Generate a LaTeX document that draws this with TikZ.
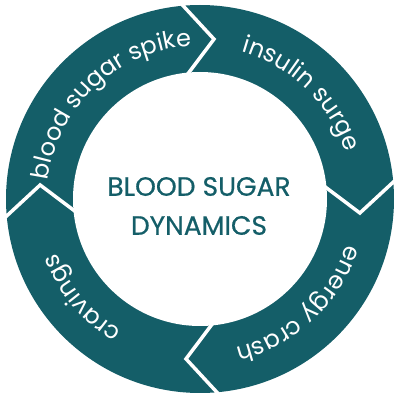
\documentclass[tikz,border=0pt]{standalone}
\usepackage{fontspec}
\newfontfamily\popp{Poppins}
\newfontfamily\poppmed{Poppins}[FakeBold=0.5]
\usetikzlibrary{decorations.text,calc}
\definecolor{ringteal}{RGB}{20,94,104}
\newcommand\lbl{\popp\fontsize{24}{24}\selectfont}
\tikzset{
  ringlabel/.style={decorate, decoration={text along path, text align=center, text color=white, text={|\lbl|#1}}},
  gapline/.style={white, line width=3.5pt, line join=miter}
}
\begin{document}
\begin{tikzpicture}[x=1pt,y=1pt]
\useasboundingbox (0,0) rectangle (400,400);
\coordinate (C) at (200,201);
\fill[ringteal] (C) circle (194);
\fill[white] (C) circle (127);
\foreach \a in {95,5,-85,-175} {
  \coordinate (o) at ([shift={(\a:194)}]C);
  \coordinate (i) at ([shift={(\a:127)}]C);
  \coordinate (t) at ([shift={(\a-10:160.5)}]C);
  \draw[gapline] ($(t)!1.15!(o)$) -- (t) -- ($(t)!1.15!(i)$);
}
\path[ringlabel={blood sugar spike}] ([shift={(178:153)}]C) arc[start angle=178, end angle=88, radius=153];
\path[ringlabel={insulin surge}] ([shift={(91:153)}]C) arc[start angle=91, end angle=1, radius=153];
\path[ringlabel={energy crash}] ([shift={(-2:153)}]C) arc[start angle=-2, end angle=-92, radius=153];
\path[ringlabel={cravings}] ([shift={(265:153)}]C) arc[start angle=265, end angle=175, radius=153];
\node[font=\poppmed\fontsize{26.5}{39}\selectfont, text=ringteal, align=center] (title) at (199,194) {BLOOD SUGAR\\DYNAMICS};
\end{tikzpicture}
\end{document}
